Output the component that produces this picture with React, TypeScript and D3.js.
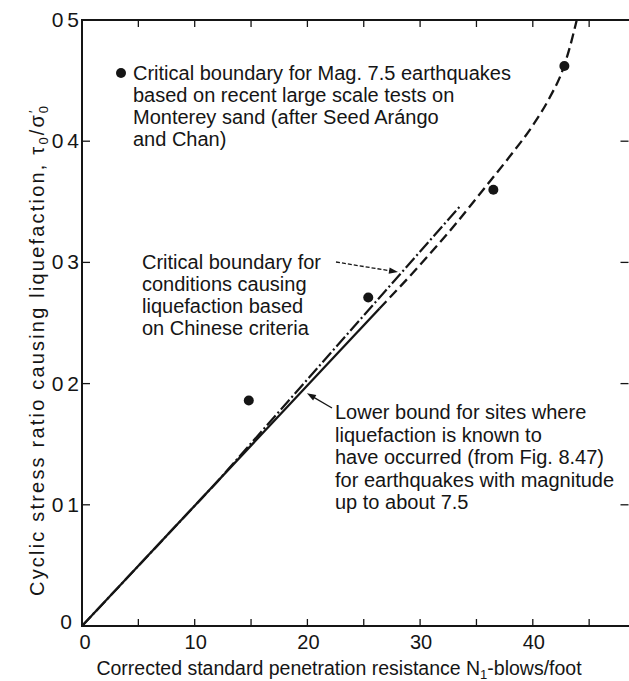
import React from 'react';
import * as d3 from 'd3';

const width = 629;
const height = 681;
const margin = {top: 20, bottom: 55, left: 82};
const ink = '#151515';
const font = '"Liberation Sans", Arial, sans-serif';

// axis ticks
const xLabelTicks = [0, 10, 20, 30, 40];
const xMinorTicks = [5, 10, 15, 20, 25, 30, 35, 40, 45];
const yTickValues = [0, 0.1, 0.2, 0.3, 0.4, 0.5];
const yTickLabels = ['0', '0 1', '0 2', '0 3', '0 4', '0 5'];

// large scale tests on Monterey sand (dots)
const seedN = [14.8, 25.4, 36.5, 42.8];
const seedRatio = [0.186, 0.271, 0.36, 0.462];

// lower bound: solid part, then dashed extension
const lowerSolidN = [0, 26.4];
const lowerSolidRatio = [0, 0.262];
const lowerDashN = [26.4, 30, 33, 35.6, 38, 40, 41.5, 42.7, 43.3, 43.9];
const lowerDashRatio = [0.262, 0.298, 0.33, 0.36, 0.388, 0.413, 0.436, 0.46, 0.478, 0.5];

// chinese criteria (dash-dot)
const chineseN = [0, 12, 33.6];
const chineseRatio = [0, 0.119, 0.347];

const xScale = d3.scaleLinear().domain([0, 50]).range([margin.left, margin.left + 563.5]);
const yScale = d3.scaleLinear().domain([0, 0.5]).range([height - margin.bottom, margin.top]);

const line = d3.line<[number, number]>()
  .x(d => xScale(d[0]))
  .y(d => yScale(d[1]));
const curve = d3.line<[number, number]>()
  .x(d => xScale(d[0]))
  .y(d => yScale(d[1]))
  .curve(d3.curveMonotoneX);

const zip = (a: number[], b: number[]) => a.map((v, i) => [v, b[i]] as [number, number]);

const textStyle = {fontFamily: font, fontSize: 20, fill: ink};

function Arrow({x1, y1, x2, y2, dash}: {x1: number, y1: number, x2: number, y2: number, dash?: string}) {
  const a = Math.atan2(y2 - y1, x2 - x1);
  const l = 9, w = 3.2;
  const p1 = [x2 - l * Math.cos(a) + w * Math.sin(a), y2 - l * Math.sin(a) - w * Math.cos(a)];
  const p2 = [x2 - l * Math.cos(a) - w * Math.sin(a), y2 - l * Math.sin(a) + w * Math.cos(a)];
  return (
    <g>
      <line x1={x1} y1={y1} x2={x2 - 5 * Math.cos(a)} y2={y2 - 5 * Math.sin(a)} stroke={ink} strokeWidth={1.3} strokeDasharray={dash} />
      <path d={`M${x2},${y2}L${p1[0]},${p1[1]}L${p2[0]},${p2[1]}Z`} fill={ink} />
    </g>
  );
}

export default function App() {
  const x0 = xScale(0), x1 = xScale(50);
  const y0 = yScale(0), y1 = yScale(0.5);

  return (
    <svg width={width} height={height} style={{position: 'absolute', left: 0, top: 0, background: '#fff'}}>
      {/* frame */}
      <path d={`M${x0},${y0}V${y1}H${x1}V${y0}Z`} fill="none" stroke={ink} strokeWidth={2} />

      {/* ticks */}
      {xMinorTicks.map(t => (
        <g key={'xt' + t}>
          <line x1={xScale(t)} x2={xScale(t)} y1={y0} y2={y0 - 7} stroke={ink} strokeWidth={1.3} />
          <line x1={xScale(t)} x2={xScale(t)} y1={y1} y2={y1 + 7} stroke={ink} strokeWidth={1.3} />
        </g>
      ))}
      {yTickValues.slice(1, 5).map(t => (
        <g key={'yt' + t}>
          <line x1={x0} x2={x0 + 8} y1={yScale(t)} y2={yScale(t)} stroke={ink} strokeWidth={1.3} />
          <line x1={x1 - 17} x2={x1 - 25} y1={yScale(t)} y2={yScale(t)} stroke={ink} strokeWidth={1.3} />
        </g>
      ))}

      {/* tick labels */}
      {xLabelTicks.map(t => (
        <text key={'xl' + t} x={xScale(t) + (t === 0 ? 3 : 1)} y={y0 + 23} textAnchor="middle" style={{...textStyle, fontSize: 20}}>{t}</text>
      ))}
      {yTickValues.map((t, i) => (
        <text key={'yl' + t} x={t === 0 ? 71 : 78} y={yScale(t) + (t === 0 ? 3 : 7)} textAnchor="end" letterSpacing={-1} style={{...textStyle, fontSize: 21}}>{yTickLabels[i]}</text>
      ))}

      {/* axis titles */}
      <text x={339} y={675} textAnchor="middle" style={{...textStyle, fontSize: 19.5}}>
        Corrected standard penetration resistance  N<tspan dy={4} fontSize={13}>1</tspan><tspan dy={-4}>-blows/foot</tspan>
      </text>
      <text transform={`translate(44, 351) rotate(-90)`} textAnchor="middle" textLength={490} lengthAdjust="spacing" style={{...textStyle, fontSize: 20}}>
        Cyclic stress ratio causing liquefaction, τ<tspan dy={4} fontSize={13}>0</tspan><tspan dy={-4}>/σ</tspan><tspan dy={-6} fontSize={13}>′</tspan><tspan dy={10} dx={-5} fontSize={13}>0</tspan>
      </text>

      {/* curves */}
      <path d={line(zip(lowerSolidN, lowerSolidRatio)) || ''} fill="none" stroke={ink} strokeWidth={2.3} />
      <path d={curve(zip(lowerDashN, lowerDashRatio)) || ''} fill="none" stroke={ink} strokeWidth={2.3} strokeDasharray="10 5" />
      <path d={line(zip(chineseN, chineseRatio)) || ''} fill="none" stroke={ink} strokeWidth={2.2} strokeDasharray="13 3 2 3" />

      {/* data points */}
      {seedN.map((n, i) => (
        <circle key={'p' + i} cx={xScale(n)} cy={yScale(seedRatio[i])} r={5} fill={ink} />
      ))}

      {/* legend / annotations */}
      <circle cx={121} cy={73} r={5} fill={ink} />
      <text style={textStyle}>
        <tspan x={133} y={80}>Critical boundary for Mag. 7.5 earthquakes</tspan>
        <tspan x={133} y={102}>based on recent large scale tests on</tspan>
        <tspan x={133} y={124}>Monterey sand (after Seed  Arángo</tspan>
        <tspan x={133} y={146}>and Chan)</tspan>
      </text>

      <text style={textStyle}>
        <tspan x={142} y={269}>Critical boundary for</tspan>
        <tspan x={142} y={291}>conditions causing</tspan>
        <tspan x={142} y={313}>liquefaction based</tspan>
        <tspan x={142} y={335}>on Chinese criteria</tspan>
      </text>
      <Arrow x1={336} y1={262} x2={xScale(28.04)} y2={yScale(0.292)} dash="4 2" />

      <text style={textStyle}>
        <tspan x={335} y={419}>Lower bound for sites where</tspan>
        <tspan x={335} y={442}>liquefaction is known to</tspan>
        <tspan x={335} y={464}>have occurred (from Fig. 8.47)</tspan>
        <tspan x={335} y={487}>for earthquakes with magnitude</tspan>
        <tspan x={335} y={509}>up to about 7.5</tspan>
      </text>
      <Arrow x1={332} y1={408} x2={xScale(19.96)} y2={yScale(0.192)} />
    </svg>
  );
}
